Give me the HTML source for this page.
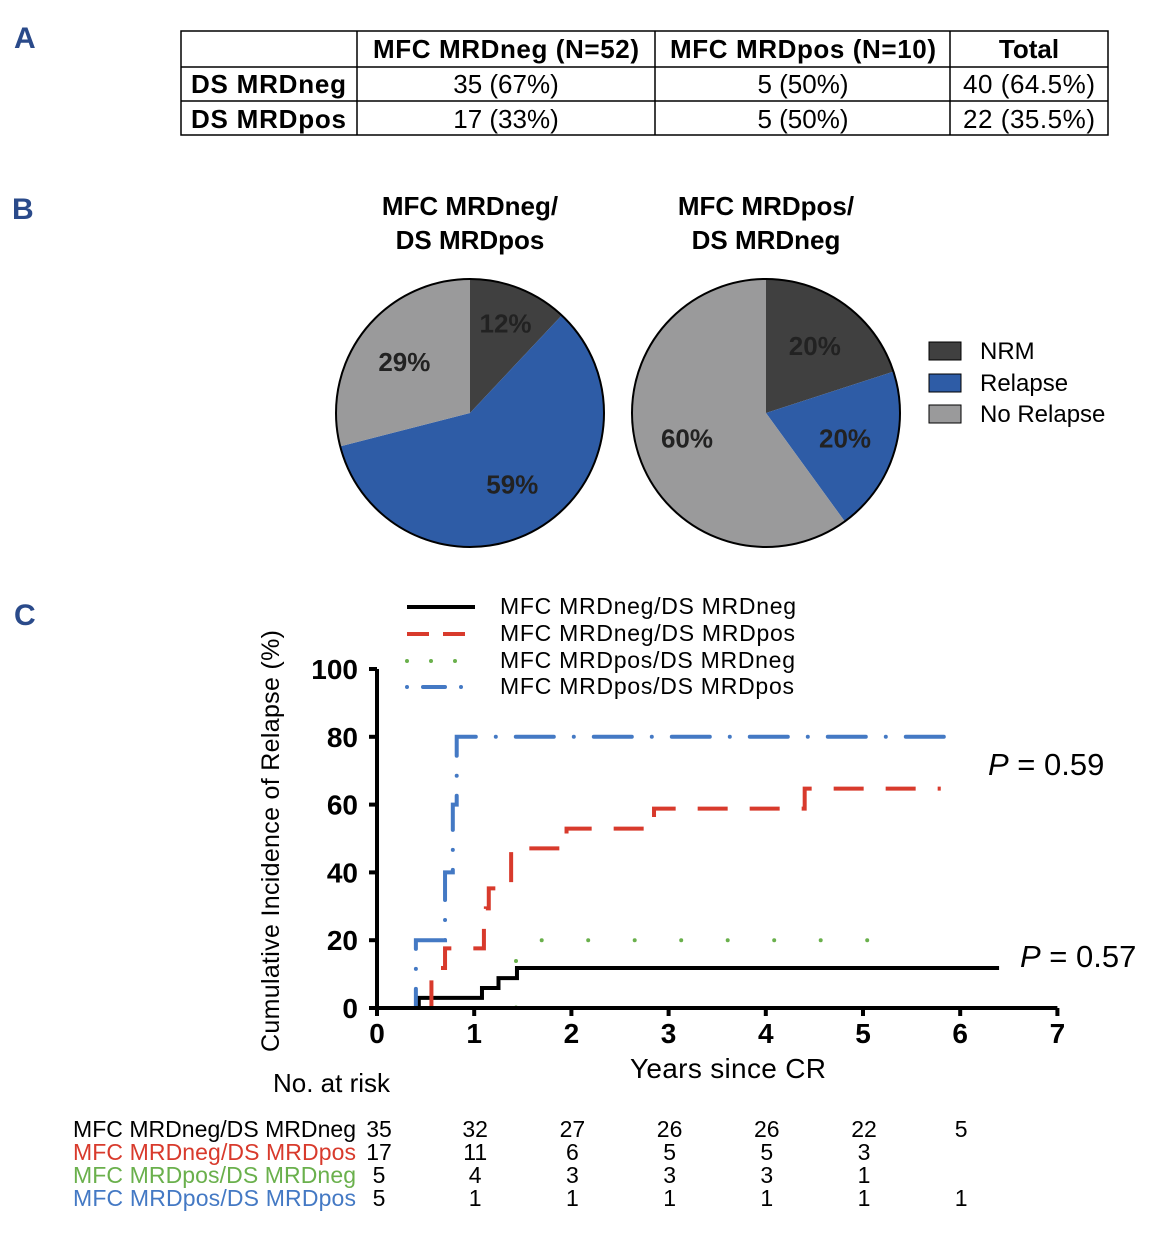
<!DOCTYPE html>
<html><head><meta charset="utf-8"><style>
body{margin:0;background:#fff;font-family:"Liberation Sans",sans-serif}
svg text{font-family:"Liberation Sans",sans-serif}
</style></head><body>
<svg id="s" width="1160" height="1235" viewBox="0 0 1160 1235">
<g font-weight="bold" font-size="30" fill="#2a4a8a">
<text x="14" y="48">A</text><text x="12" y="219">B</text><text x="14" y="625">C</text></g>
<g font-size="26" stroke-width="0">
<g stroke="#000" stroke-width="1.5" fill="none">
<rect x="181" y="31" width="927" height="104"/>
<line x1="181" y1="67" x2="1108" y2="67"/><line x1="181" y1="101" x2="1108" y2="101"/>
<line x1="357" y1="31" x2="357" y2="135"/><line x1="655" y1="31" x2="655" y2="135"/><line x1="950" y1="31" x2="950" y2="135"/></g>
<g font-weight="bold" text-anchor="middle"><text x="506" y="58" textLength="266">MFC MRDneg (N=52)</text><text x="803" y="58" textLength="266">MFC MRDpos (N=10)</text><text x="1029" y="58">Total</text></g>
<g font-weight="bold"><text x="191" y="93" textLength="155">DS MRDneg</text><text x="191" y="128" textLength="155">DS MRDpos</text></g>
<g text-anchor="middle"><text x="506" y="93">35 (67%)</text><text x="803" y="93">5 (50%)</text><text x="1029" y="93" textLength="132">40 (64.5%)</text>
<text x="506" y="128">17 (33%)</text><text x="803" y="128">5 (50%)</text><text x="1029" y="128" textLength="132">22 (35.5%)</text></g></g>
<g font-weight="bold" font-size="26" text-anchor="middle">
<text x="470" y="215">MFC MRDneg/</text><text x="470" y="249">DS MRDpos</text>
<text x="766" y="215">MFC MRDpos/</text><text x="766" y="249">DS MRDneg</text></g>
<g id="pies"></g>
<g font-size="24">
<rect x="929" y="342" width="32" height="18" fill="#404040" stroke="#000"/><text x="980" y="359">NRM</text>
<rect x="929" y="374" width="32" height="18" fill="#2e5ca6" stroke="#000"/><text x="980" y="391">Relapse</text>
<rect x="929" y="405" width="32" height="18" fill="#9a9a9b" stroke="#000"/><text x="980" y="422">No Relapse</text></g>
<g id="chart"></g>
<g font-size="23">
<line x1="407" y1="607" x2="475" y2="607" stroke="#000" stroke-width="4"/><text x="500" y="614" textLength="296">MFC MRDneg/DS MRDneg</text>
<line x1="407" y1="634" x2="475" y2="634" stroke="#d83a2c" stroke-width="4" stroke-dasharray="22,14"/><text x="500" y="641" textLength="295">MFC MRDneg/DS MRDpos</text>
<line x1="407" y1="661" x2="475" y2="661" stroke="#6ab04c" stroke-width="4" stroke-dasharray="0,24" stroke-linecap="round"/><text x="500" y="668" textLength="295">MFC MRDpos/DS MRDneg</text>
<line x1="407" y1="687" x2="475" y2="687" stroke="#4479c4" stroke-width="4" stroke-dasharray="0,16,22,16" stroke-linecap="round"/><text x="500" y="694" textLength="294">MFC MRDpos/DS MRDpos</text></g>
<g font-size="31"><text x="988" y="775"><tspan font-style="italic">P</tspan> = 0.59</text><text x="1020" y="967"><tspan font-style="italic">P</tspan> = 0.57</text></g>
<text x="273" y="1092" font-size="26">No. at risk</text>
<g id="risk" font-size="23"></g>
</svg>
<script>
const NS="http://www.w3.org/2000/svg";
function mk(p,t,a){const e=document.createElementNS(NS,t);for(const k in a)e.setAttribute(k,a[k]);p.appendChild(e);return e;}
// Pie data
const pieNames=["MFC MRDneg/DS MRDpos","MFC MRDpos/DS MRDneg"];
const pieNRM=[12,20];
const pieRelapse=[59,20];
const pieNoRelapse=[29,60];
const pieColors=["#404040","#2e5ca6","#9a9a9b"];
const pieCx=[470,766];
const pies=document.getElementById('pies');
pieNames.forEach((n,i)=>{
  const vals=[pieNRM[i],pieRelapse[i],pieNoRelapse[i]];
  const cx=pieCx[i],cy=413,r=134;let a0=0;
  vals.forEach((v,j)=>{
    const a1=a0+v/100*2*Math.PI;
    const x0=cx+r*Math.sin(a0),y0=cy-r*Math.cos(a0),x1=cx+r*Math.sin(a1),y1=cy-r*Math.cos(a1);
    const p=mk(pies,'path',{d:`M${cx},${cy}L${x0},${y0}A${r},${r} 0 ${a1-a0>Math.PI?1:0} 1 ${x1},${y1}Z`,fill:pieColors[j]});
    
    
    const am=(a0+a1)/2, lr=r*(v<15?0.72:0.62);
    const t=mk(pies,'text',{x:cx+lr*Math.sin(am),y:cy-lr*Math.cos(am)+9,'text-anchor':'middle','font-size':26,'font-weight':'bold',fill:'#222'});
    t.textContent=v+'%';
    
    
    a0=a1;
  });
  const c=mk(pies,'circle',{cx:cx,cy:cy,r:134,fill:'none',stroke:'#000','stroke-width':2});
  
  
});
// KM data
const xTicks=[0,1,2,3,4,5,6,7];
const yTicks=[0,20,40,60,80,100];
const blackT=[0.43,1.08,1.25,1.44]; const blackV=[3,5.9,8.8,11.8]; const blackEnd=6.4;
const redT=[0.56,0.7,1.1,1.12,1.15,1.38,1.95,2.85,4.4]; const redV=[11.8,17.6,23.5,29.4,35.3,47.1,52.9,58.8,64.7]; const redEnd=5.8;
const greenT=[1.43]; const greenV=[20]; const greenEnd=5.5;
const blueT=[0.4,0.7,0.78,0.82]; const blueV=[20,40,60,80]; const blueEnd=6.0;
const X=v=>377+v*97.2, Y=v=>1008-v*3.39;
const ch=document.getElementById('chart');
function step(T,V,end,style,name){
  let d=`M${X(0)},${Y(0)}`;let prev=0;
  T.forEach((t,i)=>{d+=`L${X(t)},${Y(prev)}L${X(t)},${Y(V[i])}`;prev=V[i];});
  d+=`L${X(end)},${Y(prev)}`;
  const p=mk(ch,'path',Object.assign({d:d,fill:'none'},style));
  
  
}
step(blackT,blackV,blackEnd,{stroke:'#000','stroke-width':4},'line-mrdneg-dsneg');
step(redT,redV,redEnd,{stroke:'#d83a2c','stroke-width':4,'stroke-dasharray':'30,22'},'line-mrdneg-dspos');
step(greenT,greenV,greenEnd,{stroke:'#6ab04c','stroke-width':4,'stroke-dasharray':'0,46.5','stroke-linecap':'round'},'line-mrdpos-dsneg');
step(blueT,blueV,blueEnd,{stroke:'#4479c4','stroke-width':4,'stroke-dasharray':'0,20,38,20','stroke-linecap':'round'},'line-mrdpos-dspos');
const ax=mk(ch,'path',{d:`M${X(0)},${Y(100)}L${X(0)},${Y(0)}L${X(7)},${Y(0)}`,stroke:'#000','stroke-width':4,fill:'none'});


xTicks.forEach(t=>{
  mk(ch,'line',{x1:X(t),x2:X(t),y1:Y(0),y2:Y(0)+8,stroke:'#000','stroke-width':4});
  const e=mk(ch,'text',{x:X(t),y:1043,'text-anchor':'middle','font-size':28,'font-weight':'bold'});e.textContent=t;
  
  
});
yTicks.forEach(t=>{
  mk(ch,'line',{x1:X(0)-8,x2:X(0),y1:Y(t),y2:Y(t),stroke:'#000','stroke-width':4});
  const e=mk(ch,'text',{x:358,y:Y(t)+10,'text-anchor':'end','font-size':28,'font-weight':'bold'});e.textContent=t;
  
  
});
let xt=mk(ch,'text',{x:728,y:1078,'text-anchor':'middle','font-size':28,textLength:196});xt.textContent='Years since CR';


let yt=mk(ch,'text',{transform:'translate(279,841) rotate(-90)','text-anchor':'middle','font-size':25,textLength:422});yt.textContent='Cumulative Incidence of Relapse (%)';


// risk table
const riskNames=['MFC MRDneg/DS MRDneg','MFC MRDneg/DS MRDpos','MFC MRDpos/DS MRDneg','MFC MRDpos/DS MRDpos'];
const riskColors=['#000','#d83a2c','#6ab04c','#4479c4'];
const riskRows=[[35,32,27,26,26,22,5],[17,11,6,5,5,3,null],[5,4,3,3,3,1,null],[5,1,1,1,1,1,1]];
const rk=document.getElementById('risk');
riskNames.forEach((n,i)=>{
  const y=1137+i*23;
  const l=mk(rk,'text',{x:356,y:y,'text-anchor':'end',fill:riskColors[i],textLength:283});l.textContent=n;
  
  
  riskRows[i].forEach((v,j)=>{ if(v===null)return;
    const t=mk(rk,'text',{x:X(j)+(j===0?2:1),y:y,'text-anchor':'middle'});t.textContent=v;
    
    
  });
});
</script>
</body></html>
